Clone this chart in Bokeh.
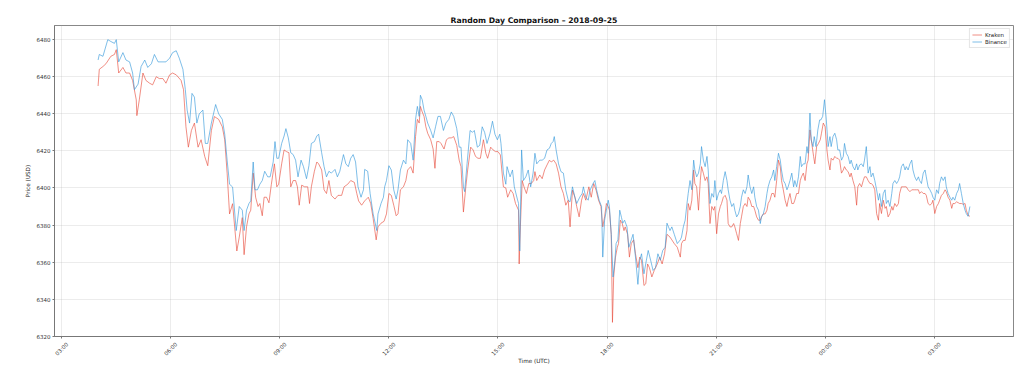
import math
import pandas as pd
from bokeh.plotting import figure
from bokeh.models import (FixedTicker, DatetimeTickFormatter, Range1d, Legend, LegendItem, ColumnDataSource)
from bokeh.core.properties import value
from bokeh.embed import file_html
from bokeh.resources import INLINE

# ---- data (minutes after 2018-09-25 04:00 UTC, price in USD) ----
day_start = "2018-09-25 04:00"

kraken_min = [0, 2, 8, 13, 21, 27, 30, 34, 41, 46, 52, 57, 63, 64, 68, 74, 79, 85, 90, 96, 101, 107, 112, 118, 123, 129,
              137, 141, 145, 149, 154, 159, 165, 170, 176, 181, 187, 192, 199, 205, 209, 213, 217, 222, 229, 233, 238,
              241, 245, 249, 252, 256, 260, 264, 267, 271, 274, 278, 282, 286, 291, 295, 298, 303, 307, 311, 315, 318,
              322, 326, 329, 332, 336, 341, 346, 349, 352, 357, 361, 364, 369, 373, 377, 381, 385, 391, 396, 402, 406,
              412, 417, 423, 427, 430, 435, 440, 446, 450, 454, 459, 462, 467, 472, 476, 480, 484, 488, 492, 495, 499,
              504, 508, 511, 516, 520, 524, 527, 530, 532, 535, 538, 541, 544, 549, 553, 556, 559, 563, 566, 571, 575,
              579, 583, 587, 592, 596, 599, 603, 607, 610, 615, 619, 623, 627, 631, 636, 640, 643, 648, 652, 656, 660,
              664, 669, 673, 676, 681, 685, 689, 694, 695, 697, 700, 703, 707, 711, 715, 719, 721, 724, 729, 733, 737,
              741, 745, 748, 752, 756, 760, 764, 768, 772, 776, 779, 783, 787, 790, 794, 798, 801, 805, 810, 814, 818,
              822, 826, 830, 833, 836, 839, 842, 844, 847, 849, 851, 854, 857, 859, 862, 865, 868, 870, 874, 877, 880,
              884, 887, 891, 894, 897, 901, 904, 907, 910, 914, 918, 923, 927, 931, 935, 939, 944, 947, 951, 956, 961,
              963, 966, 969, 972, 974, 977, 980, 983, 985, 988, 991, 994, 996, 999, 1002, 1005, 1007, 1010, 1013, 1016,
              1018, 1021, 1024, 1027, 1029, 1032, 1035, 1038, 1040, 1043, 1046, 1049, 1051, 1054, 1057, 1060, 1062,
              1065, 1068, 1071, 1073, 1076, 1079, 1082, 1084, 1087, 1090, 1093, 1095, 1098, 1101, 1104, 1106, 1109,
              1112, 1115, 1117, 1120, 1123, 1126, 1128, 1131, 1134, 1137, 1139, 1142, 1145, 1148, 1150, 1153, 1156,
              1159, 1161, 1164, 1167, 1170, 1172, 1175, 1178, 1181, 1183, 1186, 1189, 1192, 1194, 1197, 1200, 1203,
              1205, 1208, 1210, 1213, 1216, 1219, 1221, 1224, 1227, 1230, 1232, 1235, 1238, 1241, 1243, 1246, 1249,
              1252, 1254, 1257, 1260, 1263, 1265, 1268, 1271, 1274, 1276, 1279, 1282, 1285, 1288, 1290, 1293, 1296,
              1299, 1301, 1304, 1307, 1310, 1312, 1315, 1318, 1321, 1323, 1326, 1329, 1332, 1334, 1337, 1340, 1343,
              1345, 1348, 1351, 1354, 1356, 1359, 1362, 1365, 1367, 1370, 1373, 1376, 1378, 1381, 1384, 1387, 1389,
              1392, 1395, 1398, 1400, 1403, 1406, 1409, 1411, 1414, 1417, 1420, 1422, 1425, 1428, 1431, 1433, 1436, 1439]

kraken_usd = [6455, 6464, 6465.5, 6467, 6471, 6472, 6474.6, 6462, 6465, 6462, 6462, 6458, 6447.5, 6439, 6447.5, 6462,
              6458, 6456.5, 6455.6, 6460, 6459, 6459, 6456.5, 6461, 6462, 6461, 6458, 6453, 6433, 6422, 6431, 6435,
              6422, 6426, 6417, 6412, 6431, 6438.5, 6437, 6433, 6426, 6408, 6386, 6391.5, 6366, 6373.5, 6384,
              6364, 6379, 6386, 6388, 6408, 6395, 6390, 6391.6, 6385, 6395, 6395, 6392, 6402, 6413, 6400.6, 6402, 6413,
              6420.5, 6419.6, 6419, 6400.6, 6404, 6404, 6400.6, 6390.7, 6401.5, 6400.6, 6400.6, 6391.6, 6400.6, 6409,
              6414, 6413, 6409.7, 6399, 6397, 6404, 6396, 6394, 6396, 6396, 6400.6, 6402, 6404, 6403, 6397, 6393,
              6390.7, 6393, 6395, 6391.6, 6383.5, 6372, 6379, 6381, 6382, 6386, 6397, 6396, 6390.7, 6385, 6386, 6399,
              6400.6, 6404, 6409.7, 6411.5, 6408, 6427.7, 6437, 6435, 6444, 6441, 6438.6, 6433, 6429.5, 6426, 6421,
              6410.6, 6425, 6425, 6424, 6421, 6426, 6427, 6427, 6427.7, 6423, 6415, 6411.5, 6387, 6400.6, 6409.7, 6422,
              6420.5, 6417, 6416, 6416, 6426, 6418.7, 6416, 6422, 6420.5, 6419.6, 6419.6, 6417.8, 6400.6, 6400, 6395,
              6399, 6397, 6391.6, 6388, 6359, 6379, 6404, 6400.6, 6397, 6402.4, 6402.4, 6404, 6408.8, 6404, 6407, 6405,
              6409.7, 6412.4, 6415, 6414, 6415, 6413, 6408, 6400.6, 6397, 6390.7, 6393.4, 6379, 6398.8, 6395, 6390,
              6384.4, 6393.4, 6397, 6393.4, 6400.6, 6395, 6402.4, 6398.8, 6393.4, 6390, 6379, 6384.4, 6391.6, 6390,
              6388, 6375, 6327.5, 6352, 6362.7, 6368, 6370, 6382.6, 6381, 6377, 6379, 6375, 6362.7, 6370, 6372, 6364.5,
              6357, 6362.7, 6361, 6347.4, 6348.3, 6359, 6357, 6352, 6355.5, 6359, 6362.7, 6359, 6364.5, 6375, 6373.5,
              6372, 6370, 6368, 6362.7, 6370, 6371.7, 6371.7, 6377, 6391.6, 6388, 6393.4, 6409.7, 6402.4, 6400.6, 6388,
              6404, 6411.5, 6408, 6404, 6406, 6402.4, 6380.8, 6390, 6388, 6390, 6375.3, 6386, 6390, 6391.6, 6395, 6396,
              6393.4, 6380.8, 6379, 6379, 6380.8, 6379, 6375.3, 6371.7, 6380.8, 6384.4, 6390, 6391.6, 6390, 6395,
              6393.4, 6390, 6390, 6388, 6384.4, 6382.6, 6382.6, 6384.4, 6386, 6386, 6388, 6391.6, 6393.4, 6397, 6397,
              6395, 6404, 6415, 6411.5, 6404, 6399, 6393.4, 6390, 6393.4, 6397, 6391.6, 6391.6, 6393.4, 6397, 6397,
              6404, 6406, 6408, 6404, 6413, 6415, 6431.3, 6424, 6417, 6413, 6422.3, 6424, 6426, 6429.5, 6435, 6433,
              6420.5, 6415, 6409.7, 6416, 6415, 6417, 6416, 6416, 6415, 6408, 6409.7, 6411.5, 6409.7, 6408.8, 6406,
              6408, 6404, 6400.6, 6390.7, 6400.6, 6402.4, 6400.6, 6404, 6406, 6406, 6404, 6402.4, 6402.4, 6401.5, 6399,
              6386.2, 6382.6, 6391.6, 6386.2, 6393.4, 6389, 6390, 6384.4, 6386.2, 6390, 6388, 6391.6, 6390, 6391.6,
              6397, 6400.6, 6400.6, 6400.6, 6400.6, 6399, 6398, 6399, 6399, 6399, 6399, 6399, 6397, 6398, 6397, 6397,
              6396, 6391.6, 6390.7, 6391.6, 6393.4, 6386.2, 6390, 6391.6, 6393.4, 6396, 6397, 6399, 6398, 6395, 6393.4,
              6389, 6391.6, 6391.6, 6392.5, 6392, 6391.6, 6391.6, 6391.2, 6391.6, 6388, 6385.3, 6384.7]

binance_min = [0, 2, 8, 16, 21, 27, 30, 34, 41, 46, 52, 57, 60, 66, 71, 77, 82, 88, 93, 99, 107, 112, 118, 123, 129,
               134, 140, 144, 147, 151, 155, 159, 163, 167, 173, 177, 181, 187, 194, 199, 205, 209, 213, 217, 222, 228,
               233, 238, 241, 245, 249, 252, 256, 259, 263, 267, 271, 275, 280, 284, 289, 292, 295, 298, 303, 307, 310,
               314, 318, 322, 326, 330, 335, 339, 344, 348, 352, 357, 361, 364, 369, 373, 377, 381, 385, 391, 395, 399,
               405, 409, 413, 417, 421, 425, 429, 434, 438, 440, 445, 449, 454, 460, 462, 467, 471, 473, 476, 480, 484,
               488, 492, 495, 499, 504, 508, 511, 516, 520, 524, 527, 530, 532, 535, 538, 541, 544, 549, 553, 557, 561,
               565, 570, 574, 579, 583, 587, 592, 596, 599, 603, 605, 609, 614, 618, 621, 626, 630, 634, 638, 642, 647,
               651, 655, 659, 663, 665, 669, 673, 675, 680, 684, 687, 692, 694, 696, 699, 702, 706, 710, 714, 718, 721,
               724, 729, 733, 737, 741, 745, 748, 751, 753, 756, 760, 764, 768, 772, 776, 779, 783, 787, 790, 795, 799,
               801, 805, 809, 812, 817, 820, 823, 827, 831, 833, 836, 839, 842, 844, 847, 850, 853, 855, 858, 861, 864,
               866, 869, 873, 876, 880, 883, 887, 891, 894, 897, 901, 905, 908, 912, 916, 920, 924, 928, 932, 936, 939,
               944, 947, 951, 956, 961, 963, 966, 969, 972, 974, 977, 980, 983, 985, 988, 991, 994, 996, 999, 1002,
               1005, 1007, 1010, 1013, 1016, 1018, 1021, 1024, 1027, 1029, 1032, 1035, 1038, 1040, 1043, 1046, 1049,
               1051, 1054, 1057, 1060, 1062, 1065, 1068, 1071, 1073, 1076, 1079, 1082, 1084, 1087, 1090, 1093, 1095,
               1098, 1101, 1104, 1106, 1109, 1112, 1115, 1117, 1120, 1123, 1126, 1128, 1131, 1134, 1137, 1139, 1142,
               1145, 1148, 1150, 1153, 1156, 1159, 1161, 1164, 1167, 1170, 1172, 1175, 1177, 1180, 1182, 1185, 1188,
               1191, 1193, 1196, 1199, 1202, 1205, 1208, 1210, 1213, 1216, 1219, 1221, 1224, 1227, 1230, 1232, 1235,
               1238, 1241, 1243, 1246, 1249, 1252, 1254, 1257, 1260, 1263, 1265, 1268, 1271, 1274, 1276, 1279, 1282,
               1285, 1288, 1290, 1293, 1296, 1299, 1301, 1304, 1307, 1310, 1312, 1315, 1318, 1321, 1323, 1326, 1329,
               1332, 1334, 1337, 1340, 1343, 1345, 1348, 1351, 1354, 1356, 1359, 1362, 1365, 1367, 1370, 1373, 1376,
               1378, 1381, 1384, 1387, 1389, 1392, 1395, 1398, 1400, 1403, 1406, 1409, 1411, 1414, 1417, 1420, 1422,
               1425, 1428, 1431, 1433, 1436, 1439]

binance_usd = [6469, 6472, 6471, 6480, 6479, 6478, 6480, 6468, 6473, 6469, 6468, 6462, 6453, 6456, 6465.5, 6469, 6465,
               6467, 6472, 6468, 6468, 6468, 6470, 6473, 6474, 6470, 6464, 6453, 6442, 6435, 6451, 6449, 6435, 6440,
               6442, 6424, 6424, 6435, 6445, 6440, 6437, 6429, 6415, 6402, 6400.5, 6377, 6390, 6388, 6377, 6388,
               6391.6, 6393, 6414, 6399, 6399, 6402, 6404, 6409, 6406, 6406, 6414, 6425, 6416, 6416, 6424, 6428, 6432,
               6427, 6419, 6418, 6415, 6406, 6415, 6411.5, 6405, 6412, 6424, 6425, 6428, 6429, 6419, 6411.5, 6406,
               6409, 6408, 6410, 6406, 6409, 6418, 6413, 6411.5, 6416, 6418, 6414, 6400.6, 6395, 6399, 6410, 6409, 6397,
               6386, 6377, 6386, 6391.6, 6395, 6400.6, 6404, 6412, 6409.7, 6399, 6394, 6399, 6409.7, 6415, 6413, 6426,
               6424, 6415, 6437, 6444, 6438.6, 6450, 6447.6, 6442, 6438.6, 6435, 6431, 6427, 6433, 6438.6, 6438.6,
               6431, 6435, 6437, 6441, 6438.6, 6432, 6422, 6422, 6400.6, 6398, 6413, 6431, 6430, 6431, 6422, 6423,
               6433, 6430, 6424, 6429.5, 6436, 6429, 6426, 6429, 6424, 6408, 6402, 6411.5, 6406, 6409.7, 6400.6, 6394,
               6391.6, 6366, 6420.5, 6404, 6406, 6409.7, 6400.6, 6408, 6418.7, 6413, 6415, 6415, 6416, 6420.5, 6421.4,
               6424, 6425, 6427.7, 6420.5, 6413, 6408.8, 6408, 6398.8, 6393.4, 6392.5, 6400.6, 6395, 6391.6, 6395,
               6397, 6400.6, 6395, 6393.4, 6398.8, 6402.4, 6404, 6398.8, 6393.4, 6390, 6362.7, 6382.6, 6388, 6393.4,
               6390, 6375, 6352, 6361, 6370, 6372, 6388, 6384, 6381, 6382.6, 6379, 6368, 6372, 6375, 6362.7, 6348,
               6361, 6364.5, 6353.7, 6361, 6366.3, 6361, 6355.5, 6357, 6364.5, 6361, 6366.3, 6368, 6381, 6377, 6379,
               6375, 6370, 6372, 6373.5, 6379, 6382.6, 6391.6, 6397, 6404, 6399, 6415, 6409.7, 6406, 6408, 6413,
               6422.3, 6415, 6411.5, 6417, 6409.7, 6391.6, 6397, 6395, 6404, 6393.4, 6397, 6399, 6397, 6404, 6408.8,
               6404, 6399, 6393.4, 6390, 6391.6, 6388, 6384.4, 6386, 6390, 6395, 6399, 6397, 6400.6, 6407, 6400.6, 6397,
               6400.6, 6395, 6390, 6388, 6380.8, 6384.4, 6386, 6390, 6397, 6400.6, 6404, 6406, 6409.7, 6404, 6411.5,
               6418.7, 6415, 6409.7, 6404, 6402.4, 6399, 6400.6, 6404, 6408, 6400.6, 6404, 6400.6, 6406, 6417, 6411.5,
               6413, 6413, 6422.3, 6418.7, 6440.4, 6426, 6422.3, 6427.7, 6422.3, 6431.3, 6436.7, 6436.7, 6438.6,
               6447.6, 6436.7, 6422.3, 6427.7, 6422.3, 6427.7, 6429.5, 6426, 6420.5, 6420.5, 6415, 6417, 6424, 6418.7,
               6417, 6413, 6415, 6411.5, 6409.7, 6413, 6409.7, 6412.4, 6413, 6411.5, 6415, 6422.3, 6408, 6411.5, 6406,
               6408, 6404, 6399, 6393.4, 6397, 6390, 6397, 6399, 6391.6, 6393.4, 6390, 6397, 6402.4, 6404, 6402.4, 6404,
               6406, 6411.5, 6413, 6409.7, 6411.5, 6409.7, 6413, 6415, 6409.7, 6406, 6404, 6406, 6404, 6402.4, 6408,
               6409.7, 6406, 6400.6, 6399, 6397, 6395, 6393.4, 6399, 6397, 6402.4, 6406, 6404, 6406, 6400.6, 6397, 6395,
               6393.4, 6395, 6393.4, 6397, 6399, 6402.4, 6397, 6391.6, 6388, 6386.2, 6384.7, 6390]

tick_times = ["2018-09-25 03:00", "2018-09-25 06:00", "2018-09-25 09:00", "2018-09-25 12:00", "2018-09-25 15:00",
              "2018-09-25 18:00", "2018-09-25 21:00", "2018-09-26 00:00", "2018-09-26 03:00"]
tick_labels = ["03:00", "06:00", "09:00", "12:00", "15:00", "18:00", "21:00", "00:00", "03:00"]
price_ticks = [6320, 6340, 6360, 6380, 6400, 6420, 6440, 6460, 6480]

# ---- build ----
base = pd.Timestamp(day_start)
k_t = base + pd.to_timedelta(kraken_min, unit="min")
b_t = base + pd.to_timedelta(binance_min, unit="min")

t0 = min(k_t.min(), b_t.min())
t1 = max(k_t.max(), b_t.max())
span = t1 - t0
lo = min(min(kraken_usd), min(binance_usd))
hi = max(max(kraken_usd), max(binance_usd))
pad = (hi - lo) * 0.05
y_lo = lo - pad

p = figure(width=1024, height=390, x_axis_type="datetime", output_backend="svg", toolbar_location=None,
           x_range=Range1d(t0 - span * 0.05, t1 + span * 0.05), y_range=Range1d(y_lo, hi + pad),
           min_border_left=54, min_border_right=11, min_border_top=25, min_border_bottom=54,
           title="Random Day Comparison \u2013 2018-09-25")

font = "DejaVu Sans"
p.title.align = "center"
p.title.text_font = font
p.title.text_font_size = "7.7px"
p.title.text_font_style = "bold"
p.title.text_color = "#111111"
p.title.standoff = 2

r_k = p.line(k_t, kraken_usd, line_color="#e74c3c", line_width=0.85, line_alpha=0.75)
r_b = p.line(b_t, binance_usd, line_color="#3498db", line_width=0.85, line_alpha=0.75)

tick_dt = [pd.Timestamp(t) for t in tick_times]
tick_ms = [t.value // 10**6 for t in tick_dt]
p.xaxis.ticker = FixedTicker(ticks=tick_ms)
p.xaxis.formatter = DatetimeTickFormatter(minutes="%H:%M", hourmin="%H:%M", hours="%H:%M", days="%H:%M",
                                          months="%H:%M", years="%H:%M")
p.yaxis.ticker = FixedTicker(ticks=price_ticks)

for ax in (p.xaxis[0], p.yaxis[0]):
    ax.major_label_text_font = font
    ax.major_label_text_font_size = "5.5px"
    ax.major_label_text_color = "#333333"
    ax.axis_label_text_font = font
    ax.axis_label_text_font_size = "5.7px"
    ax.axis_label_text_font_style = "normal"
    ax.axis_label_text_color = "#222222"
    ax.axis_line_color = "#777777"
    ax.major_tick_line_color = "#777777"
    ax.major_tick_out = 2
    ax.major_tick_in = 0
    ax.minor_tick_line_color = None
    ax.major_label_standoff = 2
    ax.axis_label_standoff = 3

# x tick labels drawn centred on the ticks (matplotlib style); the axis' own labels are not painted
p.xaxis.major_label_text_color = None
p.xaxis.axis_label_standoff = 19
tick_src = ColumnDataSource(dict(x=tick_dt, y=[y_lo] * len(tick_dt), text=tick_labels))
p.text(x="x", y="y", text="text", source=tick_src, angle=math.pi / 4, level="overlay",
       text_align="center", text_baseline="middle", y_offset=12.5,
       text_font=value(font), text_font_size=value("5.5px"), text_color="#333333")

p.xaxis.axis_label = "Time (UTC)"
p.yaxis.axis_label = "Price (USD)"

p.outline_line_color = "#888888"
p.outline_line_width = 1
p.xgrid.grid_line_color = "#b0b0b0"
p.ygrid.grid_line_color = "#b0b0b0"
p.xgrid.grid_line_alpha = 0.3
p.ygrid.grid_line_alpha = 0.3
p.xgrid.grid_line_width = 0.8
p.ygrid.grid_line_width = 0.8

legend = Legend(items=[LegendItem(label="Kraken", renderers=[r_k]),
                       LegendItem(label="Binance", renderers=[r_b])],
                location="top_right")
legend.label_text_font = font
legend.label_text_font_size = "5.5px"
legend.label_text_color = "#222222"
legend.glyph_width = 10
legend.glyph_height = 7
legend.label_height = 7
legend.label_standoff = 3
legend.spacing = 0
legend.padding = 2
legend.margin = 3
legend.border_line_color = "#cccccc"
legend.border_line_width = 0.8
legend.background_fill_alpha = 0.8
p.add_layout(legend)

open("out.html", "w").write(file_html(p, INLINE))
